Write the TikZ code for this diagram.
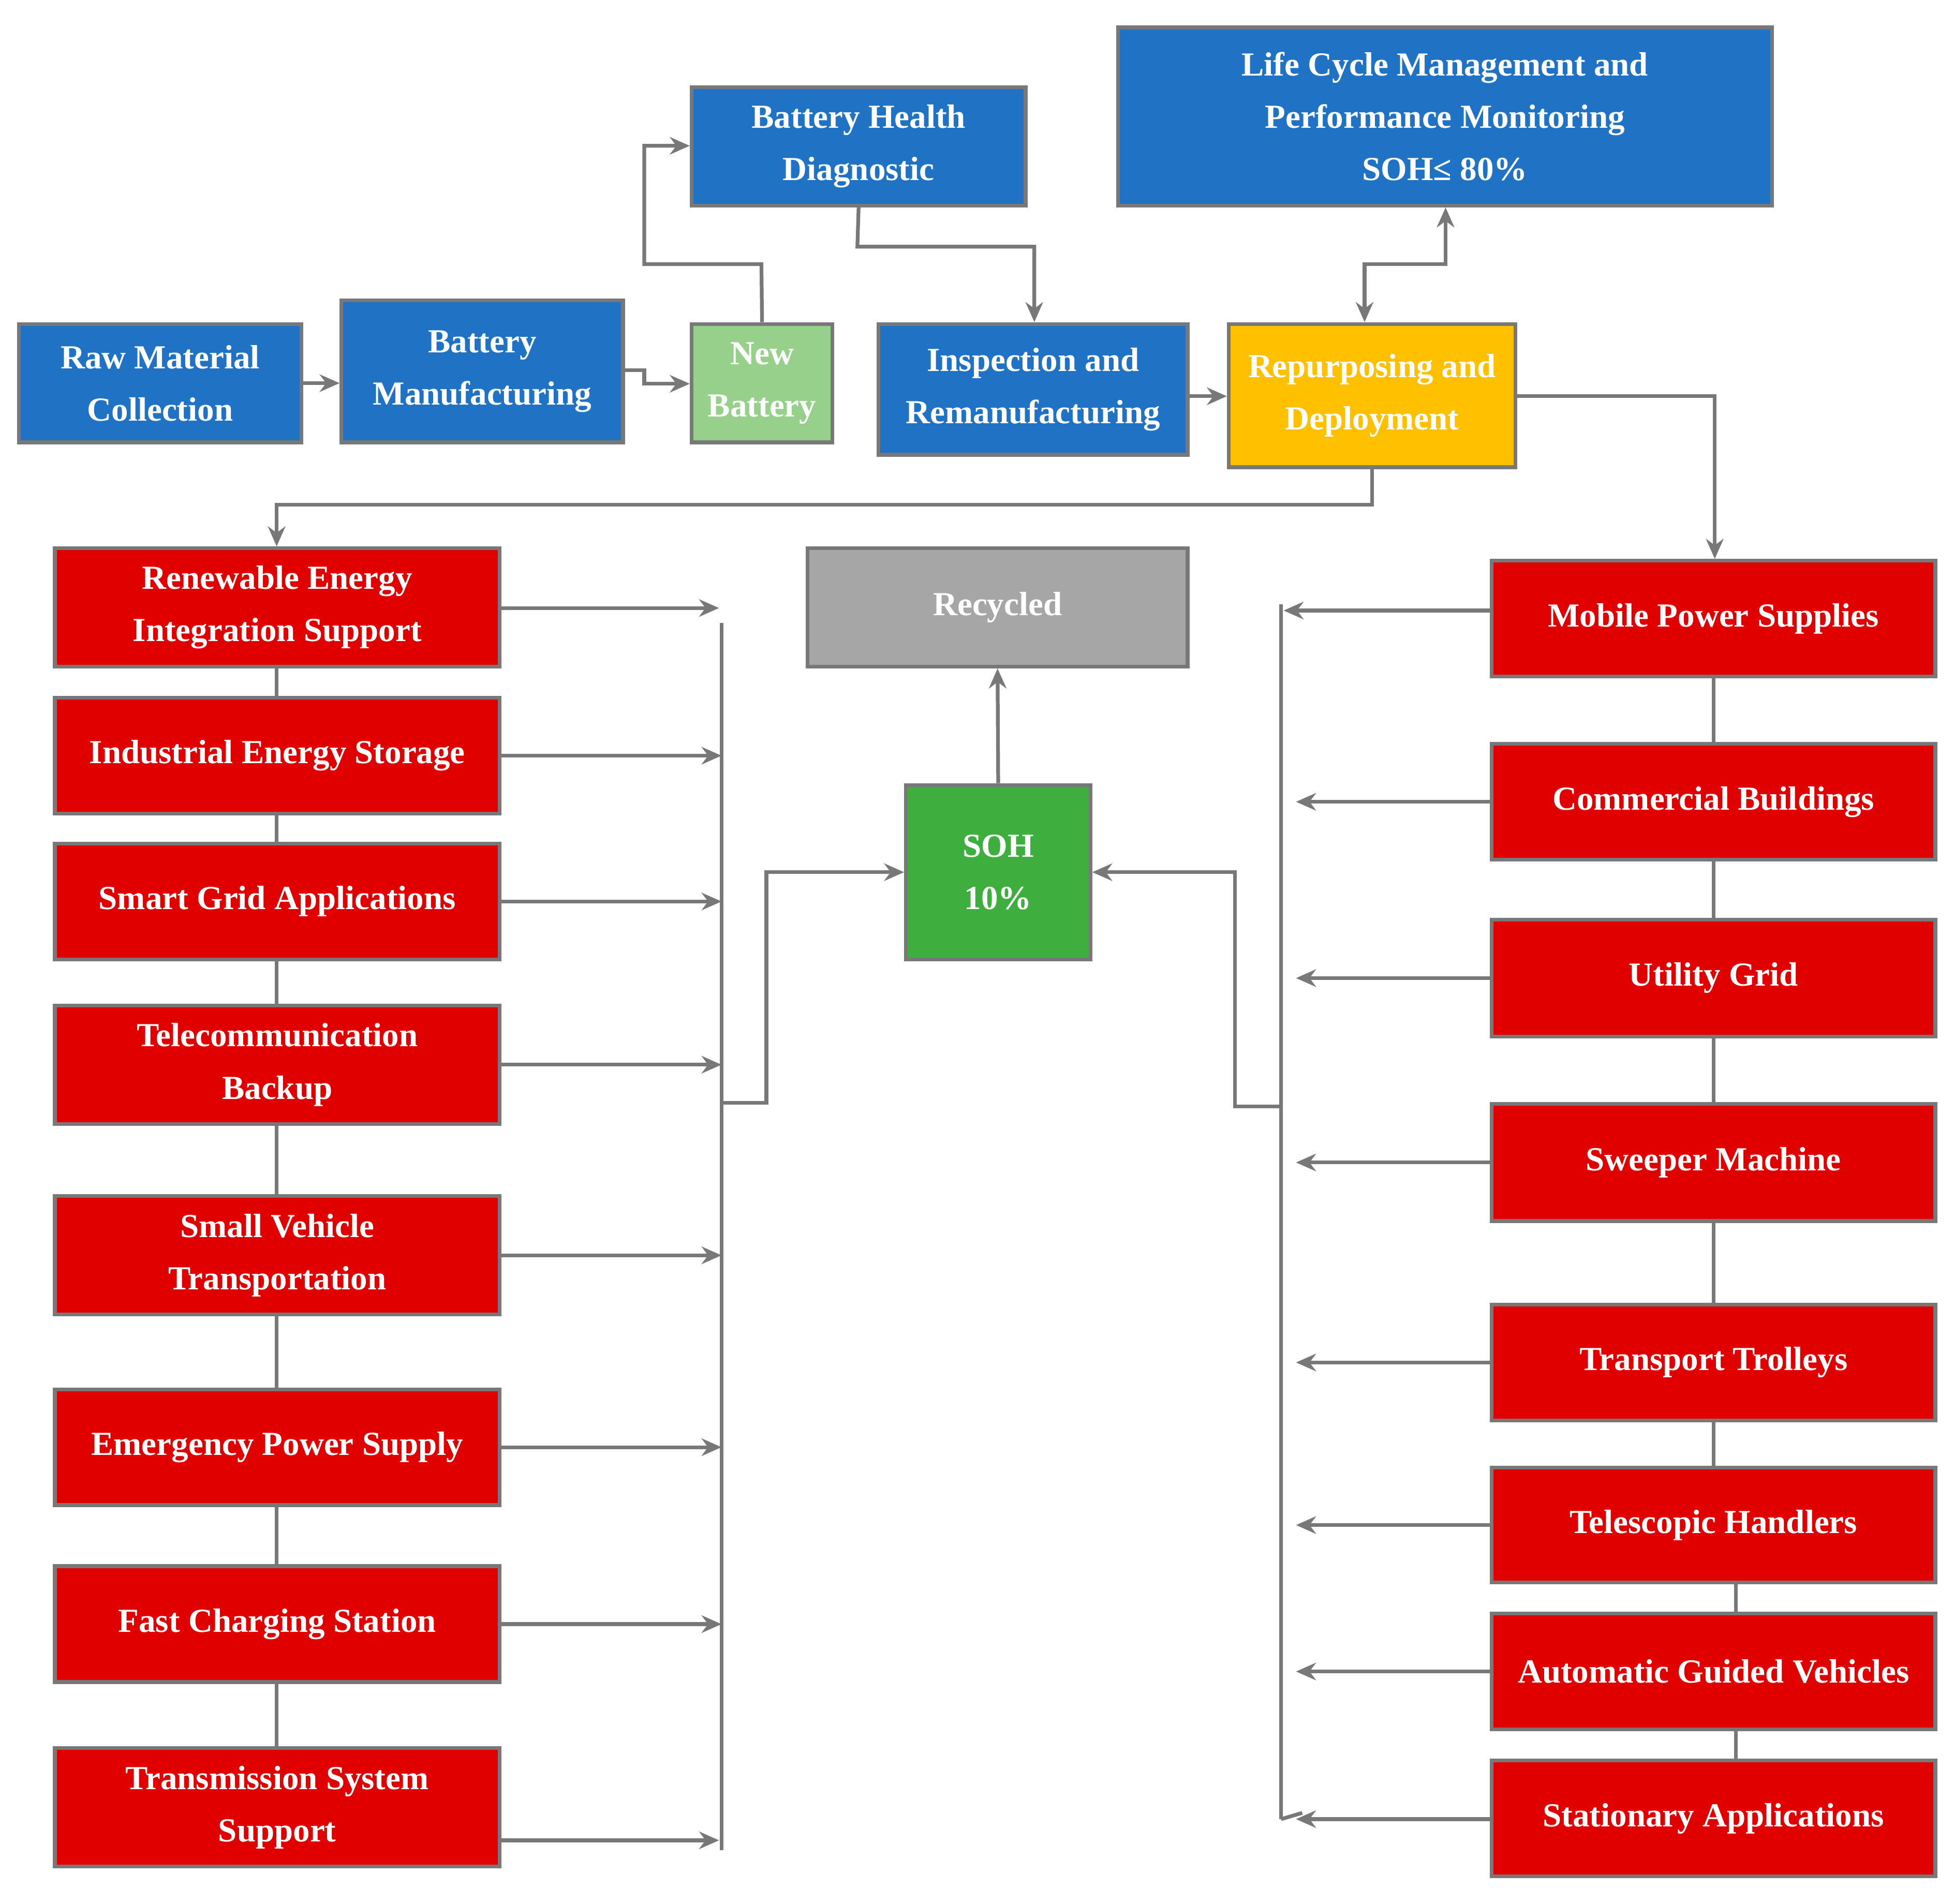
\documentclass[tikz,border=0pt]{standalone}
\usepackage{fontspec}
\setmainfont{Liberation Serif}
\usetikzlibrary{arrows.meta}
\definecolor{bblue}{RGB}{31,114,196}
\definecolor{bred}{RGB}{224,0,0}
\definecolor{bgreen}{RGB}{150,208,138}
\definecolor{sgreen}{RGB}{62,175,62}
\definecolor{byel}{RGB}{255,192,0}
\definecolor{bgray}{RGB}{166,166,166}
\definecolor{lgray}{RGB}{120,120,120}
\begin{document}
\begin{tikzpicture}[x=1pt,y=-1pt,
 box/.style={draw=lgray,line width=3pt,text=white,align=center,inner sep=0pt,
   font=\fontsize{27}{42}\selectfont\bfseries},
 ar/.style={draw=lgray,line width=3pt,-{Stealth[length=16pt,width=14pt]}},
 ln/.style={draw=lgray,line width=3pt}]
\useasboundingbox (0,0) rectangle (1568,1528);
\def\bx#1#2#3#4#5#6#7{\node[box,fill=#7,minimum width={#4-#2},minimum height={#5-#3}] (#1) at ({(#2+#4)/2},{(#3+#5)/2}) {#6};}
\bx{raw}{15}{260}{242}{355}{Raw Material\\Collection}{bblue}
\bx{bm}{274}{241}{500}{355}{Battery\\Manufacturing}{bblue}
\bx{nb}{555}{260}{668}{355}{New\\Battery}{bgreen}
\bx{bhd}{555}{70}{823}{165}{Battery Health\\Diagnostic}{bblue}
\bx{lcm}{897}{22}{1422}{165}{Life Cycle Management and\\Performance Monitoring\\SOH≤ 80\%}{bblue}
\bx{insp}{705}{260}{953}{365}{Inspection and\\Remanufacturing}{bblue}
\bx{rep}{986}{260}{1216}{375}{Repurposing and\\Deployment}{byel}
\bx{rec}{648}{440}{953}{535}{Recycled}{bgray}
\bx{soh}{727}{630}{875}{770}{SOH\\10\%}{sgreen}
\bx{L1}{44}{440}{401}{535}{Renewable Energy\\Integration Support}{bred}
\bx{L2}{44}{560}{401}{653}{Industrial Energy Storage}{bred}
\bx{L3}{44}{677}{401}{770}{Smart Grid Applications}{bred}
\bx{L4}{44}{807}{401}{902}{Telecommunication\\Backup}{bred}
\bx{L5}{44}{960}{401}{1055}{Small Vehicle\\Transportation}{bred}
\bx{L6}{44}{1115}{401}{1208}{Emergency Power Supply}{bred}
\bx{L7}{44}{1257}{401}{1350}{Fast Charging Station}{bred}
\bx{L8}{44}{1403}{401}{1498}{Transmission System\\Support}{bred}
\bx{R1}{1197}{450}{1553}{543}{Mobile Power Supplies}{bred}
\bx{R2}{1197}{597}{1553}{690}{Commercial Buildings}{bred}
\bx{R3}{1197}{738}{1553}{832}{Utility Grid}{bred}
\bx{R4}{1197}{886}{1553}{980}{Sweeper Machine}{bred}
\bx{R5}{1197}{1047}{1553}{1140}{Transport Trolleys}{bred}
\bx{R6}{1197}{1178}{1553}{1270}{Telescopic Handlers}{bred}
\bx{R7}{1197}{1295}{1553}{1388}{Automatic Guided Vehicles}{bred}
\bx{R8}{1197}{1413}{1553}{1506}{Stationary Applications}{bred}
\coordinate (a1) at (517,297);\coordinate (a2) at (517,308);
\coordinate (b1) at (611,212);\coordinate (b2) at (517,212);\coordinate (b3) at (517,117);
\coordinate (c1) at (688,198);\coordinate (c2) at (830,198);
\coordinate (d1) at (1095,212);\coordinate (d2) at (1160,212);
\coordinate (e1) at (1101,405);\coordinate (e2) at (222,405);
\coordinate (f1) at (1376,318);
\coordinate (g1) at (579,500);\coordinate (g2) at (579,1485);\coordinate (g3) at (579,885);\coordinate (g4) at (615,885);\coordinate (g5) at (615,700);
\coordinate (h1) at (1028,485);\coordinate (h2) at (1028,1460);\coordinate (h3) at (1028,888);\coordinate (h4) at (991,888);\coordinate (h5) at (991,700);
\draw[ar] (raw.east) -- (raw.east -| bm.west);
\draw[ar] (bm.east |- a1) -- (a1) -- (a2) -- (a2 -| nb.west);
\draw[ar] (nb.north) -- (b1) -- (b2) -- (b3) -- (b3 -| bhd.west);
\draw[ar] (bhd.south) -- (c1) -- (c2) -- (c2 |- insp.north);
\draw[ar] (insp.east |- 0,318) -- (rep.west |- 0,318);
\draw[ar,{Stealth[length=16pt,width=14pt]}-{Stealth[length=16pt,width=14pt]}] (d1 |- rep.north) -- (d1) -- (d2) -- (d2 |- lcm.south);
\draw[ar] (e1 |- rep.south) -- (e1) -- (e2) -- (e2 |- L1.north);
\draw[ar] (rep.east |- f1) -- (f1) -- (f1 |- R1.north);
\draw[ln] (L1.south -| e2) -- (L2.north -| e2) (L2.south -| e2) -- (L3.north -| e2) (L3.south -| e2) -- (L4.north -| e2) (L4.south -| e2) -- (L5.north -| e2) (L5.south -| e2) -- (L6.north -| e2) (L6.south -| e2) -- (L7.north -| e2) (L7.south -| e2) -- (L8.north -| e2);
\draw[ln] (R1.south) -- (R2.north) (R2.south) -- (R3.north) (R3.south) -- (R4.north) (R4.south) -- (R5.north) (R5.south) -- (R6.north);
\draw[ln] ([xshift=18pt]R6.south) -- ([xshift=18pt]R7.north) ([xshift=18pt]R7.south) -- ([xshift=18pt]R8.north);
\draw[ar] (L1.east |- 0,488) -- (577,488);
\foreach \n in {L2,L3,L4,L5,L6,L7}{\draw[ar] (\n.east) -- (\n.east -| g1);}
\draw[ar] (L8.east |- 0,1477) -- (577,1477);
\draw[ln] (g1) -- (g2);
\draw[ar] (g3) -- (g4) -- (g5) -- (g5 -| soh.west);
\draw[ar] (R1.west |- 0,490) -- (1030,490);
\foreach \n in {R2,R3,R4,R5,R6,R7}{\draw[ar] (\n.west) -- ([xshift=12pt]\n.west -| h1);}
\draw[ar] (R8.west |- 0,1460) -- (1040,1460);
\draw[ln] (h1) -- (h2) (h2) -- (1045,1455);
\draw[ar] (h3) -- (h4) -- (h5) -- (h5 -| soh.east);
\draw[ar] (soh.north) -- (rec.south);
\end{tikzpicture}
\end{document}
